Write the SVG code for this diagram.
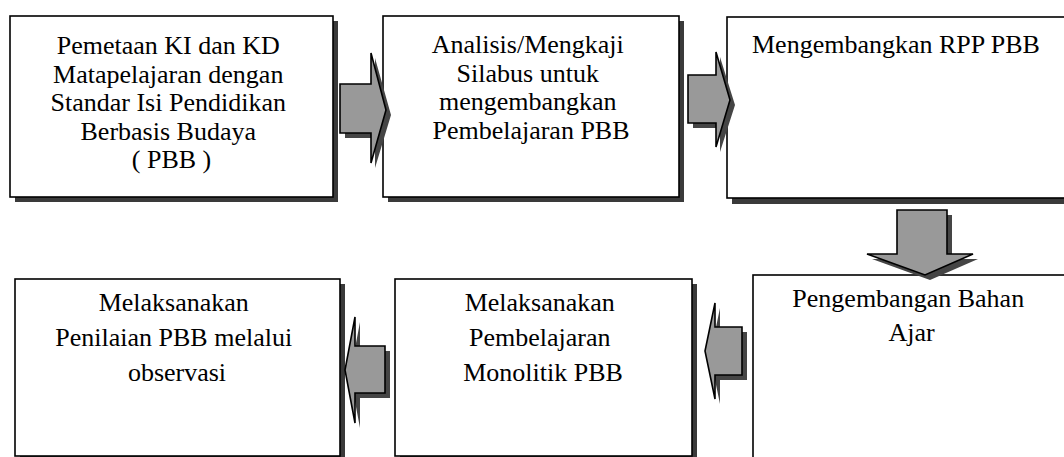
<svg xmlns="http://www.w3.org/2000/svg" width="1064" height="457" viewBox="0 0 1064 457">
  <style>
    .box { fill: #ffffff; stroke: #000000; stroke-width: 1.6; }
    .shadow { fill: #3a3a3a; stroke: none; }
    .arrow { fill: #999999; stroke: #000000; stroke-width: 1.6; stroke-linejoin: miter; }
    .ashadow { fill: #454545; stroke: none; }
    text { font-family: "Liberation Serif", "DejaVu Serif", serif; font-size: 26px; fill: #000000; }
    .mid { text-anchor: middle; }
  </style>
  <rect width="1064" height="457" fill="#ffffff"/>

  <!-- process steps -->
  <g id="step-pemetaan">
    <rect class="shadow" x="15" y="21" width="323" height="181"/>
    <rect class="box" x="10" y="16" width="323" height="181"/>
    <text class="mid" font-family="Liberation Serif, serif">
      <tspan x="171.5" y="54">Pemetaan KI dan KD</tspan>
      <tspan x="171.5" y="82.5">Matapelajaran dengan</tspan>
      <tspan x="171.5" y="111">Standar Isi Pendidikan</tspan>
      <tspan x="171.5" y="139.5">Berbasis Budaya</tspan>
      <tspan x="171.5" y="168">( PBB )</tspan>
    </text>
  </g>

  <g id="step-analisis">
    <rect class="shadow" x="388" y="21" width="296" height="181"/>
    <rect class="box" x="383" y="16" width="296" height="181"/>
    <text class="mid" font-family="Liberation Serif, serif">
      <tspan x="531" y="53">Analisis/Mengkaji</tspan>
      <tspan x="531" y="81.5">Silabus untuk</tspan>
      <tspan x="531" y="110">mengembangkan</tspan>
      <tspan x="531" y="138.5">Pembelajaran PBB</tspan>
    </text>
  </g>

  <g id="step-rpp">
    <rect class="shadow" x="732" y="22" width="345" height="182"/>
    <rect class="box" x="727" y="17" width="345" height="181"/>
    <text x="752" y="53" font-family="Liberation Serif, serif">Mengembangkan RPP PBB</text>
  </g>

  <g id="step-bahan-ajar">
    <rect class="box" x="753" y="275" width="320" height="190"/>
    <text class="mid" font-family="Liberation Serif, serif">
      <tspan x="911.5" y="307">Pengembangan Bahan</tspan>
      <tspan x="911.5" y="341">Ajar</tspan>
    </text>
  </g>

  <g id="step-pembelajaran">
    <rect class="shadow" x="400" y="284" width="297" height="190"/>
    <rect class="box" x="395" y="279" width="297" height="177"/>
    <text class="mid" font-family="Liberation Serif, serif">
      <tspan x="543" y="311">Melaksanakan</tspan>
      <tspan x="543" y="346">Pembelajaran</tspan>
      <tspan x="543" y="381">Monolitik PBB</tspan>
    </text>
  </g>

  <g id="step-penilaian">
    <rect class="shadow" x="20" y="284" width="325" height="190"/>
    <rect class="box" x="15" y="279" width="325" height="177"/>
    <text class="mid" font-family="Liberation Serif, serif">
      <tspan x="177" y="311">Melaksanakan</tspan>
      <tspan x="177" y="346">Penilaian PBB melalui</tspan>
      <tspan x="177" y="381">observasi</tspan>
    </text>
  </g>

  <!-- block arrows between steps -->
  <g id="connectors">
    <g id="arrow-1-2">
      <polygon class="ashadow" points="345,89 375,89 375,58 391,115 375,168 375,138 345,138"/>
      <polygon class="arrow" points="340,84 371,84 371,53 386,110 371,163 371,133 340,133"/>
    </g>
    <g id="arrow-2-3">
      <polygon class="ashadow" points="693,80 720,80 720,57 735,105 720,152 720,128 693,128"/>
      <polygon class="arrow" points="688,75 716,75 716,52 730,100 716,147 716,123 688,123"/>
    </g>
    <g id="arrow-3-4">
      <polygon class="ashadow" points="902,215 952,215 952,259 978,259 930,280 872,259 902,259"/>
      <polygon class="arrow" points="897,210 947,210 947,254 973,254 925,275 867,254 897,254"/>
    </g>
    <g id="arrow-4-5">
      <polygon class="ashadow" points="747,332 747,380 720,380 720,404 710,356 720,308 720,332"/>
      <polygon class="arrow" points="742,327 742,375 715,375 715,399 705,351 715,303 715,327"/>
    </g>
    <g id="arrow-5-6">
      <polygon class="ashadow" points="390,351 390,398 360,398 360,428 350,375 360,322 360,351"/>
      <polygon class="arrow" points="385,346 385,393 355,393 355,423 345,370 355,317 355,346"/>
    </g>
  </g>
</svg>
